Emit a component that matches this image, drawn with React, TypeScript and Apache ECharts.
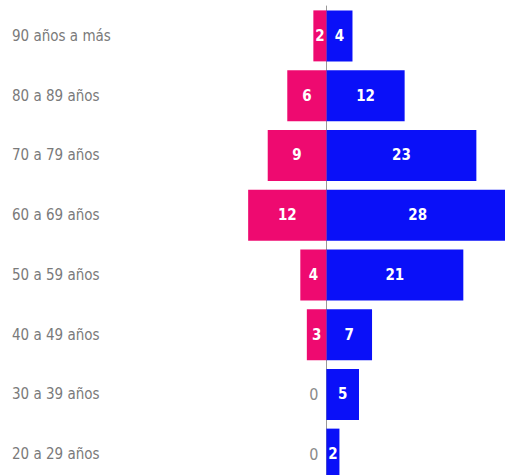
import React, { useEffect, useRef } from "react";
import * as echarts from "echarts";

const categories = [
  "90 años a más",
  "80 a 89 años",
  "70 a 79 años",
  "60 a 69 años",
  "50 a 59 años",
  "40 a 49 años",
  "30 a 39 años",
  "20 a 29 años",
];
const mujeres = [2, 6, 9, 12, 4, 3, 0, 0];
const hombres = [4, 12, 23, 28, 21, 7, 5, 2];

const PINK = "#EE0A70";
const BLUE = "#0A10F8";
const NARROW = "'DejaVu Sans Condensed', 'Liberation Sans', sans-serif";

export default function App() {
  const ref = useRef<HTMLDivElement>(null);
  useEffect(() => {
    if (!ref.current) return;
    const chart = echarts.init(ref.current, null, { renderer: "svg" });
    const insideLabel = {
      show: true,
      position: "inside" as const,
      color: "#ffffff",
      fontFamily: NARROW,
      fontSize: 15,
      fontWeight: "bold" as const,
    };
    chart.setOption({
      animation: false,
      grid: {
        left: 196,
        top: 6,
        width: 326,
        height: 478,
        containLabel: false,
        outerBoundsMode: "none",
      },
      xAxis: {
        type: "value",
        min: -20,
        max: 30,
        show: false,
        splitLine: { show: false },
      },
      yAxis: {
        type: "category",
        data: categories,
        inverse: true,
        axisTick: { show: false },
        axisLine: { show: true, onZero: true, lineStyle: { color: "#999999", width: 1 } },
        axisLabel: {
          align: "left",
          margin: 184,
          color: "#7a7a7a",
          fontSize: 15,
          fontFamily: NARROW,
        },
      },
      series: [
        {
          name: "Mujeres",
          type: "bar",
          stack: "total",
          barWidth: 51,
          itemStyle: { color: PINK },
          label: { ...insideLabel, formatter: (p: any) => String(Math.abs(p.value)) },
          data: mujeres.map((v) =>
            v === 0
              ? {
                  value: 0,
                  label: {
                    show: true,
                    position: "left",
                    distance: 8,
                    color: "#8a8a8a",
                    fontWeight: "normal",
                    fontSize: 16,
                  },
                }
              : -v
          ),
          z: 3,
        },
        {
          name: "Hombres",
          type: "bar",
          stack: "total",
          barWidth: 51,
          itemStyle: { color: BLUE },
          label: { ...insideLabel },
          data: hombres,
          z: 2,
        },
      ],
    });
    return () => chart.dispose();
  }, []);
  return (
    <div
      ref={ref}
      style={{ position: "fixed", left: 0, top: 0, width: 530, height: 490, background: "#fff" }}
    />
  );
}
